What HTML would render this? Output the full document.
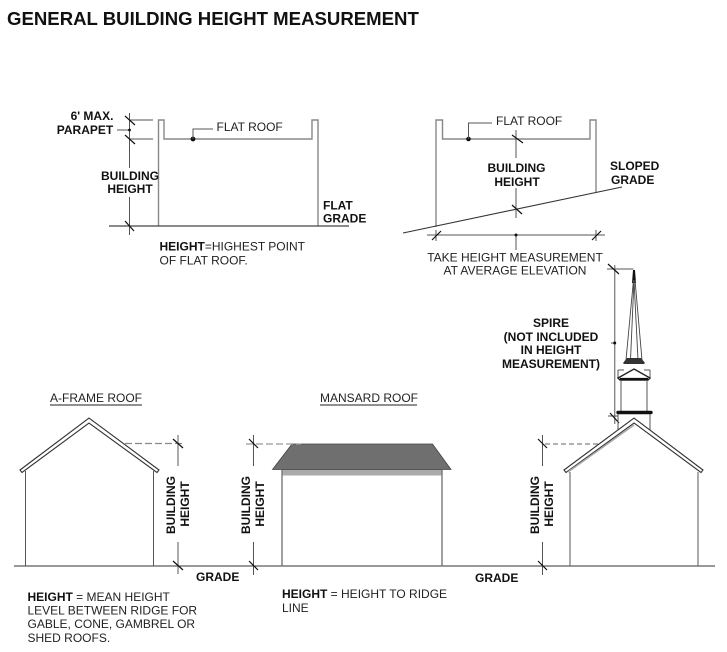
<!DOCTYPE html>
<html><head><meta charset="utf-8"><style>
html,body{margin:0;padding:0;background:#fff;width:727px;height:652px;overflow:hidden}
svg{display:block}
text{font-family:"Liberation Sans",Arial,sans-serif;font-size:12px;fill:#222}
.b{font-weight:bold;fill:#111}
.m{text-anchor:middle}
.l{stroke:#555;stroke-width:1;fill:none}
.g{stroke:#888;stroke-width:1.4;fill:none}
.d{stroke:#333;stroke-width:1.1;fill:none}
.t{stroke:#111;stroke-width:1.2;fill:none}
</style></head><body>
<svg width="727" height="652" viewBox="0 0 727 652">
<text x="7" y="25" class="b" style="font-size:18.6px">GENERAL BUILDING HEIGHT MEASUREMENT</text>

<!-- flat roof -->
<path class="g" d="M158.5 226V120H164V139H312V120H318V226"/>
<path d="M109 226H349" stroke="#444" stroke-width="1.2" fill="none"/>
<path class="l" d="M129.5 113V168M129.5 197V235M129 120H153M129 139H153M117 130H129"/>
<path class="t" d="M125 116L135 125M125 135L135 144M125 221L134 231"/>
<circle cx="129.5" cy="130" r="1.4" fill="#111"/>
<circle cx="193" cy="139" r="2.4" fill="#111"/>
<path class="l" d="M193 139V129H213"/>
<text x="216.5" y="131">FLAT ROOF</text>
<text class="b m"><tspan x="92" y="120">6' MAX.</tspan><tspan x="85" y="134">PARAPET</tspan></text>
<text class="b m"><tspan x="130" y="180">BUILDING</tspan><tspan x="130" y="193">HEIGHT</tspan></text>
<text class="b"><tspan x="323" y="209.500">FLAT</tspan><tspan x="323" y="222.500">GRADE</tspan></text>
<text><tspan x="159.5" y="250.500" class="b">HEIGHT</tspan><tspan>=HIGHEST POINT</tspan><tspan x="159.5" y="264.500">OF FLAT ROOF.</tspan></text>

<!-- sloped -->
<path class="g" d="M436 227V120H442.5V139H590V120H596V192"/>
<path class="d" d="M403 233L622 187"/>
<path class="l" d="M516 130V158M516 188V218"/>
<path class="t" d="M512 135L523 143M512 205L522 214"/>
<circle cx="468.5" cy="139" r="2.300" fill="#111"/>
<path class="l" d="M468.5 139V123H492"/>
<text x="496" y="125">FLAT ROOF</text>
<text class="b m"><tspan x="516.5" y="172">BUILDING</tspan><tspan x="517" y="186">HEIGHT</tspan></text>
<text class="b"><tspan x="610" y="170">SLOPED</tspan><tspan x="611" y="184">GRADE</tspan></text>
<path class="l" d="M427 235H605M516 235V250M436 230V241M596 230V241"/>
<path class="t" d="M432 240L441 231M592 240L601 231"/>
<circle cx="516" cy="235" r="1.500" fill="#111"/>
<text class="m"><tspan x="515" y="261.500">TAKE HEIGHT MEASUREMENT</tspan><tspan x="515" y="274.500">AT AVERAGE ELEVATION</tspan></text>

<!-- spire -->
<path class="g" d="M614.700 265V424"/>
<path class="l" d="M607 269H633.5M611 343H616M608 416H618"/>
<path class="t" d="M608 264L619 274M610 413L619 423"/>
<circle cx="614.7" cy="343" r="1.500" fill="#111"/>
<text class="b m"><tspan x="551" y="327">SPIRE</tspan><tspan x="551" y="341">(NOT INCLUDED</tspan><tspan x="551" y="354">IN HEIGHT</tspan><tspan x="551" y="368">MEASUREMENT)</tspan></text>
<path d="M633 270L635 270L636 283L632 283Z" fill="#111"/>
<path d="M633.5 280L626 360M634 280L630.5 360M634 280L638 360M635 280L642 360" stroke="#444" stroke-width=".9" fill="none"/>
<path d="M623 363L627 358H641L645 363L644 364H624Z" fill="#333"/>
<path class="l" d="M618 370V378M650 370V378M618 370H624M644 370H650"/>
<path d="M618 378L634 369L650 378L648 380H620Z" fill="#fff" stroke="#222" stroke-width="1.400"/>
<path d="M620 379H648" stroke="#111" stroke-width="2.200"/>
<path class="l" d="M621 380V411M647 380V411"/>
<path d="M618 412.5H651" stroke="#111" stroke-width="3.400" stroke-linecap="round"/>
<path class="l" d="M618 414V433M650 414V430"/>

<!-- baseline -->
<path d="M14 566H715" stroke="#333" stroke-width="1.100"/>
<text class="b"><tspan x="196" y="581">GRADE</tspan><tspan x="475" y="582">GRADE</tspan></text>

<!-- a-frame -->
<text x="96" y="402" class="m">A-FRAME ROOF</text>
<path d="M50 405H142" stroke="#222" stroke-width=".9"/>
<path d="M20 470L89 418L159 470L157 472.5L89 423L22 472.5Z" fill="#fff" stroke="#333" stroke-width="1.100"/>
<path class="l" d="M25.5 471V566M153.5 471V566"/>
<path d="M125 443.5H184" stroke="#888" stroke-width="1.300" stroke-dasharray="7 3"/>
<path class="g" d="M178 435V466M178 542V574"/>
<path class="t" d="M173 439L183 448M173 561L183 570"/>
<text class="b m" transform="translate(175 505) rotate(-90)">BUILDING</text>
<text class="b m" transform="translate(189 504) rotate(-90)">HEIGHT</text>

<!-- mansard -->
<text x="369" y="402" class="m">MANSARD ROOF</text>
<path d="M320 405H417" stroke="#222" stroke-width=".9"/>
<rect x="282" y="469.5" width="160" height="6" fill="#aaa"/>
<path d="M292 444H432.5L451 469.5H272.5Z" fill="#6f6f6f" stroke="#444" stroke-width=".8"/>
<path class="g" d="M282 470V566M442 470V566" style="stroke:#777"/>
<path d="M246 444H301" stroke="#999" stroke-width="1.300" stroke-dasharray="7 3"/>
<path class="l" d="M253.5 435V466M253.5 542V575"/>
<path class="t" d="M249 439L258 448M249 561L258 570"/>
<text class="b m" transform="translate(250 505) rotate(-90)">BUILDING</text>
<text class="b m" transform="translate(264 504) rotate(-90)">HEIGHT</text>

<!-- church -->
<path d="M564 470L634 418L703 470L701 472.5L634 423L566 472.5Z" fill="#fff" stroke="#333" stroke-width="1.100"/>
<path d="M568 472L634 425" stroke="#aaa" stroke-width="1.500"/>
<path class="g" d="M570 472V566M698 472V566" style="stroke:#666;stroke-width:1.100"/>
<path d="M545 444H598" stroke="#666" stroke-width="1.100" stroke-dasharray="5 3"/>
<path class="l" d="M542.5 435V466M542.5 542V575"/>
<path class="t" d="M538 439L547 448M538 561L547 570"/>
<text class="b m" transform="translate(539 505) rotate(-90)">BUILDING</text>
<text class="b m" transform="translate(553 504) rotate(-90)">HEIGHT</text>

<!-- notes -->
<text><tspan x="27.5" y="601" class="b">HEIGHT</tspan><tspan> = MEAN HEIGHT</tspan><tspan x="27.5" y="614.500">LEVEL BETWEEN RIDGE FOR</tspan><tspan x="27.5" y="628">GABLE, CONE, GAMBREL OR</tspan><tspan x="27.5" y="642">SHED ROOFS.</tspan></text>
<text><tspan x="282" y="598" class="b">HEIGHT</tspan><tspan> = HEIGHT TO RIDGE</tspan><tspan x="282" y="612">LINE</tspan></text>
</svg>
</body></html>
